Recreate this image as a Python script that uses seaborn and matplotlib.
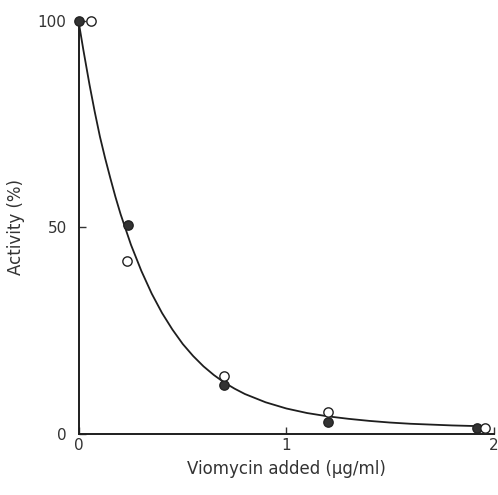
import numpy as np
import pandas as pd
import seaborn as sns
import matplotlib.pyplot as plt

closed_x = [0.0, 0.235, 0.70, 1.20, 1.92]
closed_y = [100.0, 50.5, 12.0, 3.0, 1.5]
open_x = [0.055, 0.23, 0.70, 1.20, 1.96]
open_y = [100.0, 42.0, 14.0, 5.3, 1.5]

# fitted curve, values
curve_x = [0.0, 0.02, 0.05, 0.075, 0.1, 0.125, 0.15, 0.175, 0.2, 0.25, 0.3, 0.35,
           0.4, 0.45, 0.5, 0.55, 0.6, 0.65, 0.7, 0.75, 0.8, 0.9, 1.0, 1.1,
           1.2, 1.3, 1.4, 1.5, 1.6, 1.7, 1.8, 1.95]
curve_y = [99.0, 93.0, 84.5, 78.0, 72.0, 66.8, 62.0, 57.4, 53.2, 45.8, 39.5, 34.0,
           29.3, 25.3, 21.8, 18.9, 16.4, 14.3, 12.5, 11.0, 9.7, 7.7, 6.2, 5.1,
           4.3, 3.7, 3.2, 2.8, 2.5, 2.3, 2.1, 1.9]

sns.set_style("ticks")
plt.rcParams['font.family'] = ['DejaVu Sans']

fig = plt.figure(figsize=(4.98, 4.95), dpi=100)
ax = fig.add_axes([0.159, 0.123, 0.832, 0.835])

curve = pd.DataFrame({'x': curve_x, 'y': curve_y})
sns.lineplot(data=curve, x='x', y='y', ax=ax, color='#1e1e1e', linewidth=1.3)

sns.scatterplot(x=closed_x, y=closed_y, ax=ax, s=45, color='#333333',
                edgecolor='#222222', linewidth=1.0, zorder=3, clip_on=False)
sns.scatterplot(x=open_x, y=open_y, ax=ax, s=45, facecolor='white',
                edgecolor='#222222', linewidth=1.0, zorder=4, clip_on=False)

ax.set_xlim(0, 2)
ax.set_ylim(0, 100)
ax.set_xticks([0, 1, 2])
ax.set_yticks([0, 50, 100])
ax.set_xticklabels(['0', '1', '2'])
ax.set_yticklabels(['0', '50', '100'])
ax.tick_params(direction='in', length=5, width=1.0, colors='#333333',
               labelsize=11)
ax.tick_params(axis='y', pad=9)
ax.tick_params(axis='x', pad=3)
for side in ['top', 'right']:
    ax.spines[side].set_visible(False)
for side in ['left', 'bottom']:
    ax.spines[side].set_linewidth(1.4)
    ax.spines[side].set_color('#1e1e1e')

ax.set_xlabel('Viomycin added (\u03bcg/ml)', fontsize=12, color='#333333', labelpad=5)
ax.set_ylabel('Activity (%)', fontsize=12, color='#333333', labelpad=9)

fig.savefig('out.png', dpi=100)
